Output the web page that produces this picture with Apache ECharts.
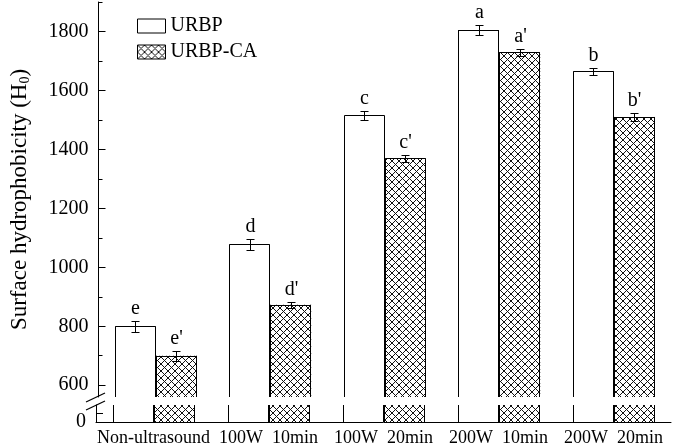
<!DOCTYPE html>
<html>
<head>
<meta charset="utf-8">
<script src="https://cdn.jsdelivr.net/npm/echarts@6/dist/echarts.min.js"></script>
<style>
  html, body { margin: 0; padding: 0; background: #fff; }
  #chart { width: 673px; height: 448px; }
</style>
</head>
<body>
<div id="chart"></div>
<script>
// data
var categories = ['Non-ultrasound', '100W  10min', '100W  20min', '200W  10min', '200W  20min'];
var urbp = [800, 1078, 1515, 1805, 1665];
var urbpErr = [18, 18, 14, 16, 11];
var urbpCA = [700, 873, 1370, 1730, 1510];
var urbpCAErr = [17, 10, 12, 12, 14];
var urbpLetters = ['e', 'd', 'c', 'a', 'b'];
var urbpCALetters = ["e'", "d'", "c'", "a'", "b'"];
var majorTicks = [600, 800, 1000, 1200, 1400, 1600, 1800];
var minorTicks = [700, 900, 1100, 1300, 1500, 1700, 1900];

var FONT = 'Liberation Serif';
var BAR_W = 41;

// cross hatch fill for URBP-CA
var hatch = document.createElement('canvas');
hatch.width = 7; hatch.height = 7;
var ctx = hatch.getContext('2d');
ctx.fillStyle = '#fff';
ctx.fillRect(0, 0, 7, 7);
ctx.strokeStyle = '#111';
ctx.lineWidth = 1;
ctx.beginPath();
ctx.moveTo(-1, -1); ctx.lineTo(8, 8);
ctx.moveTo(8, -1); ctx.lineTo(-1, 8);
ctx.stroke();
var hatchFill = { image: hatch, repeat: 'repeat' };

var chart = echarts.init(document.getElementById('chart'));

function px(v) { return Math.round(v) + 0.5; }

// error bar + letter drawn above each bar
function errRenderer(values, errs, letters, off) {
  return function (params, api) {
    var i = params.dataIndex;
    var c = api.coord([i, values[i]]);
    var x = px(c[0] + off);
    var top = px(api.coord([i, values[i] + errs[i]])[1]);
    var bot = px(api.coord([i, values[i] - errs[i]])[1]);
    var st = { stroke: '#000', lineWidth: 1 };
    return {
      type: 'group',
      children: [
        { type: 'line', shape: { x1: x, y1: top, x2: x, y2: bot }, style: st },
        { type: 'line', shape: { x1: x - 4, y1: top, x2: x + 4, y2: top }, style: st },
        { type: 'line', shape: { x1: x - 4, y1: bot, x2: x + 4, y2: bot }, style: st },
        { type: 'text', style: { text: letters[i], x: x, y: top - 3, align: 'center',
            verticalAlign: 'bottom', font: '20px "' + FONT + '"', fill: '#000' } }
      ]
    };
  };
}

// bar outline: sides and top only, cut at the grid edges (axis break)
function outlineRenderer(values, off) {
  return function (params, api) {
    var i = params.dataIndex;
    var cs = params.coordSys;
    var c = api.coord([i, values[i]]);
    var base = api.coord([i, 0])[1];
    var x0 = px(c[0] + off - BAR_W / 2);
    var x1 = px(c[0] + off + BAR_W / 2) - 1;
    var top = Math.max(c[1], cs.y);
    var bot = Math.min(base, cs.y + cs.height);
    var st = { stroke: '#000', lineWidth: 1 };
    var kids = [
      { type: 'line', shape: { x1: x0, y1: top, x2: x0, y2: bot }, style: st },
      { type: 'line', shape: { x1: x1, y1: top, x2: x1, y2: bot }, style: st }
    ];
    if (c[1] >= cs.y) {
      kids.push({ type: 'line', shape: { x1: x0, y1: px(c[1]), x2: x1, y2: px(c[1]) }, style: st });
    }
    return { type: 'group', children: kids };
  };
}

function idx(arr) { return arr.map(function (v, i) { return [i, v]; }); }

var yLabelFmt = function (v) { return String(v); };

var option = {
  animation: false,
  grid: [
    { left: 96, right: 2, top: 2, bottom: 51 },
    { left: 96, right: 2, top: 405, height: 17 }
  ],
  legend: {
    orient: 'vertical',
    left: 137,
    top: 16,
    padding: 0,
    icon: 'rect',
    itemWidth: 28,
    itemHeight: 14,
    itemGap: 6,
    data: [
      { name: 'URBP', itemStyle: { borderColor: '#000', borderWidth: 1 } },
      { name: 'URBP-CA', itemStyle: { borderColor: '#000', borderWidth: 1 } }
    ],
    textStyle: { fontFamily: FONT, fontSize: 20, color: '#000', padding: [0, 0, 0, 0] }
  },
  xAxis: [
    { type: 'category', gridIndex: 0, data: categories, show: false },
    {
      type: 'category', gridIndex: 1, data: categories,
      axisLine: { lineStyle: { color: '#000', width: 1 } },
      axisTick: { inside: true, length: 5, lineStyle: { color: '#000' } },
      axisLabel: { fontFamily: FONT, fontSize: 18, color: '#000', margin: 7, interval: 0 }
    }
  ],
  yAxis: [
    {
      type: 'value', gridIndex: 0, min: 560, max: 1900,
      name: 'Surface hydrophobicity (H{sub|0})',
      nameLocation: 'middle', nameGap: 66,
      nameTextStyle: {
        fontFamily: FONT, fontSize: 23, color: '#000',
        rich: { sub: { fontFamily: FONT, fontSize: 14, color: '#000', padding: [12, 0, 0, 0] } }
      },
      splitLine: { show: false },
      axisLine: { show: true, lineStyle: { color: '#000', width: 1 } },
      axisTick: { show: true, inside: true, length: 7, customValues: majorTicks, lineStyle: { color: '#000' } },
      axisLabel: { customValues: majorTicks, formatter: yLabelFmt, fontFamily: FONT, fontSize: 20, color: '#000', margin: 10 }
    },
    {
      type: 'value', gridIndex: 0, min: 560, max: 1900, position: 'left',
      splitLine: { show: false },
      axisLine: { show: false },
      axisTick: { show: true, inside: true, length: 4, customValues: minorTicks, lineStyle: { color: '#000' } },
      axisLabel: { show: false }
    },
    {
      type: 'value', gridIndex: 1, min: 0, max: 57,
      splitLine: { show: false },
      axisLine: { show: true, lineStyle: { color: '#000', width: 1 } },
      axisTick: { show: true, inside: true, length: 7, customValues: [0, 30], lineStyle: { color: '#000' } },
      axisLabel: { customValues: [0], formatter: yLabelFmt, fontFamily: FONT, fontSize: 20, color: '#000', margin: 10 }
    }
  ],
  series: [
    { name: 'URBP', type: 'bar', xAxisIndex: 0, yAxisIndex: 0, data: urbp, barWidth: BAR_W, barGap: '0%',
      itemStyle: { color: '#fff', borderWidth: 0 } },
    { name: 'URBP-CA', type: 'bar', xAxisIndex: 0, yAxisIndex: 0, data: urbpCA, barWidth: BAR_W, barGap: '0%',
      itemStyle: { color: hatchFill, borderWidth: 0 } },
    { name: 'URBP', type: 'bar', xAxisIndex: 1, yAxisIndex: 2, data: urbp, barWidth: BAR_W, barGap: '0%',
      itemStyle: { color: '#fff', borderWidth: 0 } },
    { name: 'URBP-CA', type: 'bar', xAxisIndex: 1, yAxisIndex: 2, data: urbpCA, barWidth: BAR_W, barGap: '0%',
      itemStyle: { color: hatchFill, borderWidth: 0 } },
    { type: 'custom', xAxisIndex: 0, yAxisIndex: 0, data: idx(urbp), renderItem: outlineRenderer(urbp, -BAR_W / 2), z: 4 },
    { type: 'custom', xAxisIndex: 0, yAxisIndex: 0, data: idx(urbpCA), renderItem: outlineRenderer(urbpCA, BAR_W / 2), z: 4 },
    { type: 'custom', xAxisIndex: 1, yAxisIndex: 2, data: idx(urbp), renderItem: outlineRenderer(urbp, -BAR_W / 2), z: 4 },
    { type: 'custom', xAxisIndex: 1, yAxisIndex: 2, data: idx(urbpCA), renderItem: outlineRenderer(urbpCA, BAR_W / 2), z: 4 },
    { type: 'custom', xAxisIndex: 0, yAxisIndex: 0, data: idx(urbp),
      renderItem: errRenderer(urbp, urbpErr, urbpLetters, -BAR_W / 2), z: 5 },
    { type: 'custom', xAxisIndex: 0, yAxisIndex: 0, data: idx(urbpCA),
      renderItem: errRenderer(urbpCA, urbpCAErr, urbpCALetters, BAR_W / 2), z: 5 }
  ],
  graphic: [
    // axis break marks
    { type: 'line', shape: { x1: 86, y1: 402, x2: 105, y2: 393 }, style: { stroke: '#000', lineWidth: 1.2 } },
    { type: 'line', shape: { x1: 86, y1: 410, x2: 105, y2: 401 }, style: { stroke: '#000', lineWidth: 1.2 } }
  ]
};

chart.setOption(option);
</script>
</body>
</html>
